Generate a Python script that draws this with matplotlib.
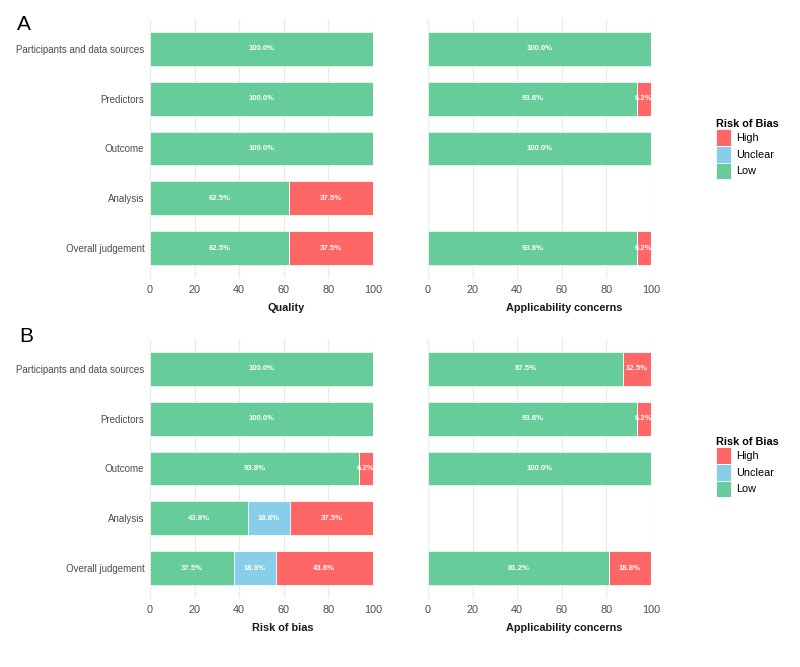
import matplotlib
matplotlib.use("Agg")
import matplotlib.pyplot as plt
from matplotlib.patches import Patch
import numpy as np

plt.rcParams['font.family'] = ['Liberation Sans', 'DejaVu Sans']

categories = ["Participants and data sources", "Predictors", "Outcome", "Analysis", "Overall judgement"]
levels = ["Low", "Unclear", "High"]
colors = {"Low": "#66CC99", "Unclear": "#87CEEB", "High": "#FF6666"}

# Panel A
a_rob_low = [100.0, 100.0, 100.0, 62.5, 62.5]
a_rob_unclear = [0, 0, 0, 0, 0]
a_rob_high = [0, 0, 0, 37.5, 37.5]
a_app_low = [100.0, 93.8, 100.0, None, 93.8]
a_app_unclear = [0, 0, 0, None, 0]
a_app_high = [0, 6.2, 0, None, 6.2]

# Panel B
b_rob_low = [100.0, 100.0, 93.8, 43.8, 37.5]
b_rob_unclear = [0, 0, 0, 18.8, 18.8]
b_rob_high = [0, 0, 6.2, 37.5, 43.8]
b_app_low = [87.5, 93.8, 100.0, None, 81.2]
b_app_unclear = [0, 0, 0, None, 0]
b_app_high = [12.5, 6.2, 0, None, 18.8]

xticks = [0, 20, 40, 60, 80, 100]

W, H = 800, 667
fig = plt.figure(figsize=(8, 6.67), dpi=100)


def ax_at(x0, x1, ytop, ybot):
    return fig.add_axes([x0 / W, 1 - ybot / H, (x1 - x0) / W, (ybot - ytop) / H])


def draw(ax, low, unclear, high, xlabel, show_y, xlab_pos):
    ypos = np.arange(len(categories))
    for i, cat in enumerate(categories):
        if low[i] is None:
            continue
        left = 0
        for lev, vals in zip(levels, [low, unclear, high]):
            v = vals[i]
            if v and v > 0:
                ax.barh(i, v, left=left, height=0.68, color=colors[lev],
                        edgecolor="#E6F5EE" if lev == "Low" else "white", linewidth=0.6, zorder=3)
                ax.text(left + v / 2, i, f"{v:.1f}%", ha="center", va="center",
                        color="white", fontsize=5.6, fontweight="bold", zorder=4)
                left += v
    ax.set_ylim(len(categories) - 0.4, -0.6)
    ax.set_xlim(0, 100)
    ax.set_xticks(xticks)
    ax.set_xticklabels([str(t) for t in xticks])
    ax.set_yticks(ypos)
    if show_y:
        ax.set_yticklabels(categories)
    else:
        ax.set_yticklabels([])
    ax.tick_params(axis="x", length=0, labelsize=7.8, labelcolor="#4D4D4D", pad=5)
    ax.tick_params(axis="y", length=0, labelsize=7.0, labelcolor="#4D4D4D", pad=4)
    ax.grid(axis="x", color="#EBEBEB", linewidth=0.9, zorder=0)
    ax.set_axisbelow(True)
    for s in ax.spines.values():
        s.set_visible(False)
    ax.set_xlabel(xlabel, fontsize=7.8, fontweight="bold", color="#1A1A1A")
    ax.xaxis.set_label_coords(xlab_pos, -0.095)


axA1 = ax_at(150, 373, 19, 278)
axA2 = ax_at(428, 651, 19, 278)
axB1 = ax_at(150, 373, 339, 598)
axB2 = ax_at(428, 651, 339, 598)

draw(axA1, a_rob_low, a_rob_unclear, a_rob_high, "Quality", True, 0.61)
draw(axA2, a_app_low, a_app_unclear, a_app_high, "Applicability concerns", False, 0.612)
draw(axB1, b_rob_low, b_rob_unclear, b_rob_high, "Risk of bias", True, 0.595)
draw(axB2, b_app_low, b_app_unclear, b_app_high, "Applicability concerns", False, 0.612)

fig.text(17 / W, 1 - 24 / H, "A", fontsize=15, va="center", ha="left", color="black")
fig.text(19 / W, 1 - 336 / H, "B", fontsize=15, va="center", ha="left", color="black")

handles = [Patch(facecolor=colors[l], edgecolor="white", linewidth=0.6, label=l)
           for l in ["High", "Unclear", "Low"]]
for ytop in [117, 435]:
    leg = fig.legend(handles=handles, title="Risk of Bias", loc="upper left",
                     bbox_to_anchor=(714 / W, 1 - ytop / H), frameon=False,
                     fontsize=7.8, title_fontproperties={"weight": "bold", "size": 7.8},
                     handlelength=1.35, handleheight=2.0, handletextpad=0.45,
                     labelspacing=0.0, alignment="left", borderaxespad=0, borderpad=0.2)

fig.savefig("out.png", dpi=100, facecolor="white")
